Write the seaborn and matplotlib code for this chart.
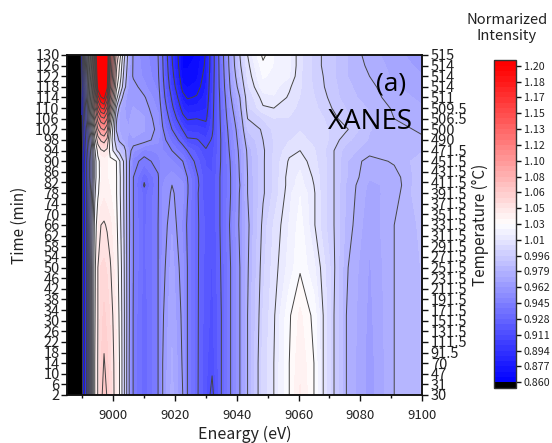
import numpy as np
import seaborn as sns
import matplotlib
matplotlib.use("Agg")
import matplotlib.pyplot as plt
from matplotlib.ticker import MultipleLocator

energy = [8985, 8990, 8991.5, 8993, 8994, 8995, 8996, 8997, 8998, 8999, 9001, 9002, 9003.5,
	9005, 9006.5, 9010, 9014.5, 9016, 9019, 9022.5, 9024, 9027, 9030, 9032, 9035, 9038,
	9041, 9043.5, 9048.5, 9052, 9057, 9060.5, 9065, 9068, 9071.5, 9075.5, 9083, 9091, 9100]
times = [2, 14, 32, 50, 66, 78, 81, 84, 90, 94, 98, 102, 106, 110, 114, 118, 122, 126, 130]

t002 = [.70,.86,.90,.98,1.03,1.048,1.06,1.07,1.063,1.055,1.042,1.03,.998,.964,.944,.93,.945,.962,.975,.962,.945,.93,.917,.908,.928,.945,.962,.979,1.004,1.013,1.03,1.042,1.03,1.013,.996,.979,.965,.979,.985]
t014 = [.70,.86,.90,.98,1.03,1.048,1.058,1.065,1.06,1.054,1.042,1.03,.998,.964,.944,.93,.945,.962,.974,.961,.945,.93,.918,.913,.928,.945,.962,.979,1.004,1.013,1.03,1.04,1.03,1.013,.996,.979,.965,.979,.985]
t032 = [.70,.86,.90,.98,1.028,1.047,1.055,1.06,1.056,1.052,1.04,1.028,.998,.965,.944,.93,.945,.961,.972,.96,.945,.93,.919,.915,.928,.945,.962,.979,1.002,1.012,1.029,1.037,1.028,1.013,.996,.979,.966,.979,.985]
t050 = [.70,.86,.90,.98,1.026,1.047,1.053,1.054,1.052,1.048,1.037,1.025,.997,.965,.945,.932,.945,.959,.97,.958,.945,.93,.92,.916,.929,.945,.962,.978,1.0,1.01,1.021,1.029,1.02,1.01,.997,.98,.967,.979,.985]
t066 = [.70,.859,.90,.975,1.02,1.04,1.047,1.048,1.046,1.043,1.034,1.02,.995,.966,.945,.932,.945,.957,.967,.955,.943,.93,.921,.917,.93,.947,.964,.977,.998,1.008,1.019,1.027,1.014,1.004,.996,.983,.969,.979,.986]
t078 = [.70,.858,.90,.965,1.01,1.028,1.037,1.04,1.038,1.036,1.031,1.017,.994,.965,.945,.931,.944,.957,.963,.958,.946,.93,.918,.917,.93,.945,.963,.979,.995,1.003,1.017,1.024,1.014,1.004,.996,.984,.971,.976,.99]
t081 = [.70,.858,.90,.96,1.008,1.027,1.036,1.038,1.037,1.035,1.031,1.017,.994,.965,.945,.927,.944,.956,.962,.958,.946,.931,.918,.917,.93,.945,.962,.979,.995,1.003,1.016,1.021,1.013,1.004,.996,.984,.972,.975,.99]
t084 = [.70,.857,.90,.955,1.005,1.025,1.035,1.037,1.036,1.034,1.031,1.017,.994,.965,.945,.93,.944,.955,.959,.954,.945,.93,.918,.917,.93,.945,.963,.979,.995,1.003,1.016,1.02,1.012,1.004,.996,.985,.974,.976,.989]
t090 = [.70,.856,.90,.955,1.005,1.025,1.036,1.037,1.036,1.033,1.03,1.015,.993,.965,.948,.942,.948,.953,.951,.945,.936,.925,.916,.916,.929,.946,.964,.98,.995,1.003,1.014,1.017,1.009,1.004,.996,.985,.976,.98,.988]
t094 = [.70,.858,.905,.96,1.01,1.035,1.045,1.048,1.044,1.025,.998,.99,.985,.966,.958,.949,.952,.951,.945,.935,.928,.92,.912,.914,.929,.948,.965,.981,.995,1.002,1.011,1.013,1.008,1.003,.996,.987,.982,.983,.984]
t098 = [.70,.86,.91,.97,1.025,1.055,1.066,1.07,1.06,1.025,.985,.977,.971,.966,.967,.966,.958,.949,.937,.922,.913,.912,.907,.912,.929,.95,.967,.985,.996,1.002,1.007,1.009,1.006,1.004,.999,.992,.984,.982,.98]
t102 = [.70,.862,.915,.99,1.045,1.08,1.095,1.10,1.085,1.035,.978,.973,.97,.968,.97,.968,.96,.946,.928,.91,.903,.903,.90,.909,.93,.952,.969,.991,.997,1.003,1.006,1.007,1.005,1.003,1.0,.997,.985,.981,.978]
t106 = [.70,.864,.925,1.01,1.07,1.105,1.125,1.13,1.115,1.055,.98,.972,.968,.967,.97,.968,.958,.942,.921,.898,.893,.894,.892,.908,.931,.955,.972,.996,1.002,1.007,1.007,1.006,1.004,1.002,.998,.992,.985,.979,.976]
t110 = [.70,.866,.93,1.03,1.09,1.14,1.165,1.17,1.145,1.08,.995,.975,.968,.966,.968,.966,.955,.938,.914,.889,.884,.885,.888,.907,.932,.958,.976,1.0,1.012,1.013,1.009,1.006,1.003,1.0,.995,.99,.984,.978,.974]
t114 = [.70,.868,.94,1.04,1.11,1.175,1.198,1.205,1.175,1.10,1.02,.995,.97,.965,.966,.963,.952,.934,.909,.881,.876,.878,.885,.906,.933,.961,.979,1.002,1.016,1.018,1.012,1.007,1.002,.998,.993,.987,.982,.976,.972]
t118 = [.70,.87,.945,1.05,1.13,1.21,1.24,1.25,1.205,1.12,1.035,1.015,.985,.966,.965,.958,.949,.932,.903,.873,.871,.873,.883,.905,.935,.964,.985,1.006,1.022,1.021,1.014,1.008,1.001,.9965,.992,.986,.981,.974,.97]
t122 = [.70,.872,.95,1.06,1.14,1.225,1.29,1.30,1.215,1.13,1.045,1.025,.99,.968,.961,.955,.947,.93,.899,.868,.867,.87,.881,.904,.936,.966,.99,1.009,1.025,1.023,1.019,1.008,1.0,.996,.991,.985,.979,.972,.968]
t126 = [.70,.874,.955,1.07,1.15,1.235,1.30,1.32,1.22,1.135,1.05,1.03,.995,.97,.961,.954,.946,.929,.896,.865,.865,.868,.879,.903,.937,.968,.994,1.011,1.028,1.024,1.02,1.009,1.0,.995,.991,.985,.9775,.971,.966]
t130 = [.70,.875,.96,1.08,1.16,1.245,1.33,1.35,1.225,1.14,1.06,1.04,1.0,.972,.961,.953,.945,.928,.894,.864,.863,.866,.878,.903,.938,.969,.996,1.013,1.032,1.024,1.02,1.009,1.0,.995,.991,.985,.976,.97,.964]

time_ticks = list(range(2, 131, 4))
temp_labels = ["30", "31", "47", "70", "91.5", "111.5", "131.5", "151.5", "171.5", "191.5", "211.5",
	"231.5", "251.5", "271.5", "291.5", "311.5", "331.5", "351.5", "371.5", "391.5", "411.5",
	"431.5", "451.5", "471.5", "490", "500", "506.5", "509.5", "511", "514", "514", "514", "515"]
cbar_values = [.860, .877, .894, .911, .928, .945, .962, .979, .996, 1.013, 1.03, 1.047, 1.064,
	1.081, 1.098, 1.115, 1.132, 1.149, 1.166, 1.183, 1.2]
cbar_labels = ["0.860", "0.877", "0.894", "0.911", "0.928", "0.945", "0.962", "0.979", "0.996", "1.01",
	"1.03", "1.05", "1.06", "1.08", "1.10", "1.12", "1.13", "1.15", "1.17", "1.18", "1.20"]

sns.set_style("ticks")
plt.rcParams["font.family"] = ["Noto Sans CJK JP", "DejaVu Sans"]
plt.rcParams["text.color"] = "#222222"
plt.rcParams["axes.labelcolor"] = "#222222"

z = np.array([t002, t014, t032, t050, t066, t078, t081, t084, t090, t094, t098, t102, t106,
	t110, t114, t118, t122, t126, t130])

cmap = sns.blend_palette(["#0000ff", "#ffffff", "#ff0000"], n_colors=61, as_cmap=True)
cmap = cmap.with_extremes(under="black", over="#ff0000")

fig = plt.figure(figsize=(5.52, 4.43), dpi=100)
ax = fig.add_axes([67 / 552, 1 - 395 / 443, 355 / 552, 340 / 443])

bands = np.linspace(.86, 1.2, 61)
filled = ax.contourf(energy, times, z, levels=bands, cmap=cmap, extend="both")
ax.contour(energy, times, z, levels=cbar_values, colors="#444444", linewidths=.7)

ax.set_xlim(8985, 9100)
ax.set_ylim(2, 130)
ax.xaxis.set_major_locator(MultipleLocator(20))
ax.xaxis.set_minor_locator(MultipleLocator(10))
ax.set_yticks(time_ticks)
ax.tick_params(axis="x", which="major", labelsize=9.5, length=4, width=1, pad=6, color="#111111", labelcolor="#222222")
ax.tick_params(axis="x", which="minor", length=2.5, width=1, color="#111111")
ax.tick_params(axis="y", labelsize=10.5, length=4.3, width=1, pad=1, color="#111111", labelcolor="#222222")
ax.set_xlabel("Eneargy (eV)", fontsize=11.5, labelpad=2.5)
ax.set_ylabel("Time (min)", fontsize=11, labelpad=5)

ax2 = ax.twinx()
ax2.set_ylim(2, 130)
ax2.set_yticks(time_ticks)
ax2.set_yticklabels(temp_labels)
ax2.tick_params(axis="y", labelsize=10.5, length=4.3, width=1, pad=2, color="#111111", labelcolor="#222222")
ax2.set_ylabel("Temperature (°C)", fontsize=11, labelpad=3)
for spine in list(ax.spines.values()) + list(ax2.spines.values()):
	spine.set_visible(True)
	spine.set_linewidth(1.1)
	spine.set_color("#111111")

fig.text(391 / 552, 1 - 84 / 443, "(a)", fontsize=19, family="Open Sans", color="black", ha="center", va="center")
fig.text(370 / 552, 1 - 122 / 443, "XANES", fontsize=20, family="Open Sans", color="black", ha="center", va="center")
fig.text(507 / 552, 1 - 28 / 443, "Normarized\nIntensity", fontsize=10.6, ha="center", va="center", linespacing=1.15)

cax = fig.add_axes([494 / 552, 1 - 388 / 443, 22 / 552, 328 / 443])
cb = fig.colorbar(filled, cax=cax, extend="both", extendrect=True, extendfrac=.018)
cb.set_ticks(cbar_values)
cb.set_ticklabels(cbar_labels)
cb.ax.tick_params(labelsize=7.7, length=3.5, width=1, pad=2, color="#111111", labelcolor="#222222")
cb.ax.minorticks_off()
cb.outline.set_linewidth(1)
cb.outline.set_edgecolor("#333333")

plt.savefig("out.png", dpi=100)
